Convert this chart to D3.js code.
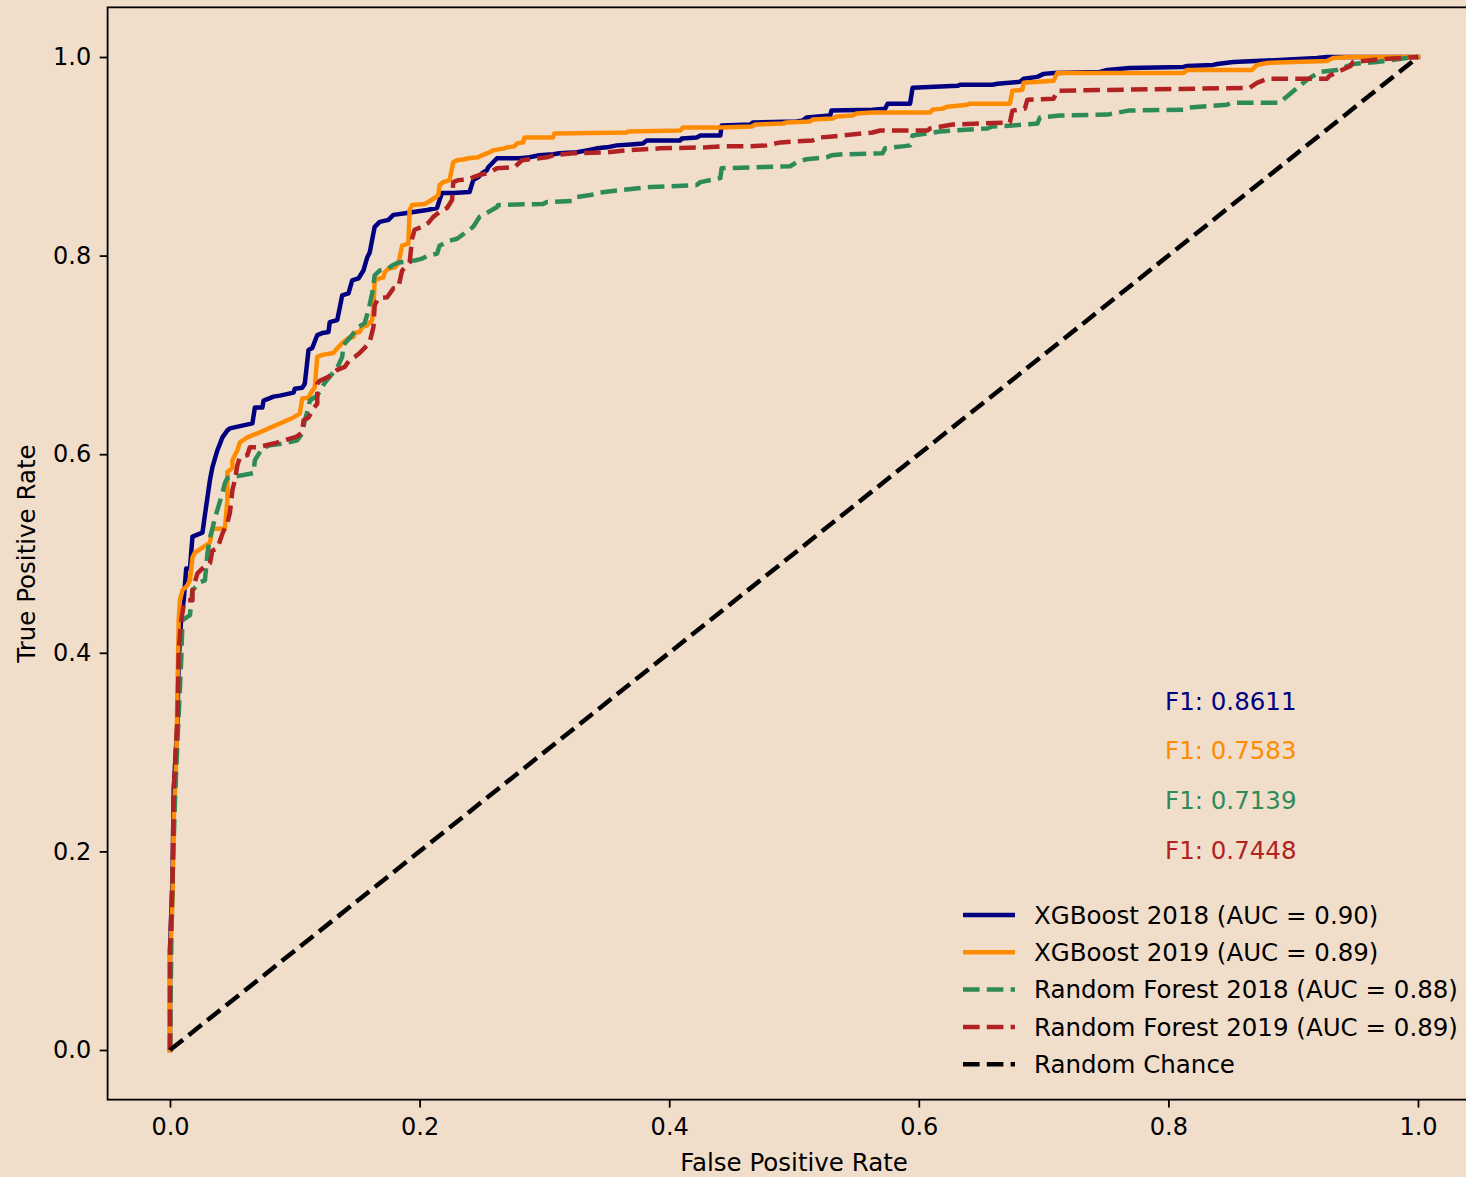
<!DOCTYPE html>
<html><head><meta charset="utf-8">
<script src="https://cdn.jsdelivr.net/npm/d3@7"></script>
<style>
html,body{margin:0;padding:0;background:#f0decb;}
svg{display:block;}
text{font-family:"DejaVu Sans",sans-serif;}
</style></head>
<body>
<svg id="chart" width="1466" height="1177"></svg>
<script>
// ---------- data ----------
const xgb2018_fpr = [0,0,0.002,0.003,0.006,0.007,0.009,0.011,0.013,0.016,0.018,0.026,0.028,0.032,0.034,0.038,0.042,0.046,0.048,0.066,0.068,0.074,0.075,0.083,0.088,0.099,0.100,0.106,0.108,0.111,0.114,0.118,0.122,0.127,0.128,0.134,0.138,0.143,0.146,0.151,0.155,0.158,0.160,0.164,0.168,0.175,0.179,0.190,0.195,0.206,0.214,0.216,0.218,0.227,0.240,0.243,0.247,0.250,0.254,0.255,0.262,0.280,0.288,0.296,0.307,0.312,0.326,0.334,0.342,0.350,0.358,0.369,0.379,0.382,0.409,0.410,0.422,0.425,0.441,0.442,0.465,0.467,0.502,0.507,0.510,0.529,0.530,0.563,0.573,0.575,0.593,0.595,0.631,0.633,0.659,0.663,0.681,0.684,0.695,0.700,0.708,0.745,0.751,0.769,0.812,0.815,0.836,0.839,0.852,0.889,0.919,0.927,1];
const xgb2018_tpr = [0,0.101,0.171,0.262,0.332,0.393,0.436,0.453,0.485,0.485,0.517,0.521,0.539,0.574,0.587,0.604,0.617,0.624,0.626,0.631,0.647,0.647,0.654,0.658,0.659,0.662,0.666,0.667,0.671,0.705,0.707,0.720,0.722,0.723,0.733,0.735,0.760,0.762,0.775,0.777,0.785,0.798,0.803,0.829,0.834,0.836,0.841,0.843,0.844,0.846,0.848,0.856,0.863,0.863,0.864,0.876,0.879,0.883,0.886,0.889,0.898,0.898,0.899,0.901,0.902,0.903,0.904,0.906,0.908,0.909,0.911,0.912,0.913,0.916,0.916,0.918,0.919,0.921,0.921,0.931,0.932,0.934,0.935,0.936,0.939,0.941,0.946,0.947,0.948,0.953,0.953,0.969,0.971,0.972,0.972,0.973,0.975,0.978,0.980,0.983,0.984,0.985,0.987,0.989,0.990,0.991,0.992,0.993,0.995,0.997,0.999,1,1];

const xgb2019_fpr = [0,0,0.002,0.003,0.005,0.006,0.007,0.008,0.010,0.014,0.016,0.018,0.020,0.032,0.034,0.044,0.046,0.046,0.050,0.050,0.054,0.056,0.062,0.070,0.099,0.104,0.106,0.111,0.114,0.116,0.118,0.122,0.131,0.135,0.138,0.143,0.147,0.148,0.152,0.154,0.158,0.162,0.163,0.164,0.168,0.171,0.172,0.175,0.180,0.183,0.186,0.191,0.192,0.194,0.204,0.207,0.212,0.215,0.216,0.219,0.224,0.227,0.230,0.236,0.239,0.247,0.250,0.256,0.259,0.268,0.270,0.276,0.278,0.283,0.284,0.307,0.308,0.366,0.367,0.409,0.411,0.441,0.466,0.469,0.491,0.494,0.513,0.515,0.531,0.534,0.547,0.550,0.563,0.609,0.611,0.619,0.623,0.639,0.641,0.673,0.675,0.683,0.684,0.708,0.711,0.812,0.815,0.867,0.871,0.879,0.927,0.932,0.946,1];
const xgb2019_tpr = [0,0.091,0.151,0.232,0.292,0.362,0.433,0.453,0.463,0.468,0.473,0.496,0.501,0.511,0.525,0.525,0.554,0.582,0.586,0.594,0.604,0.612,0.617,0.621,0.637,0.641,0.656,0.657,0.664,0.667,0.698,0.700,0.702,0.708,0.712,0.717,0.718,0.722,0.723,0.728,0.730,0.735,0.747,0.775,0.777,0.778,0.783,0.787,0.788,0.792,0.810,0.812,0.846,0.851,0.852,0.854,0.858,0.861,0.871,0.874,0.876,0.894,0.896,0.897,0.898,0.899,0.901,0.904,0.906,0.908,0.909,0.910,0.913,0.914,0.919,0.919,0.923,0.924,0.925,0.926,0.929,0.929,0.930,0.932,0.933,0.934,0.935,0.937,0.938,0.940,0.941,0.943,0.944,0.944,0.947,0.948,0.950,0.952,0.953,0.953,0.966,0.967,0.974,0.976,0.984,0.984,0.987,0.987,0.992,0.994,0.996,0.999,1,1];

const rf2018_fpr = [0,0.001,0.002,0.004,0.006,0.009,0.010,0.016,0.018,0.022,0.024,0.028,0.030,0.032,0.034,0.036,0.038,0.042,0.044,0.046,0.050,0.067,0.068,0.074,0.080,0.092,0.102,0.106,0.108,0.111,0.112,0.118,0.124,0.128,0.134,0.138,0.139,0.144,0.151,0.156,0.159,0.162,0.164,0.168,0.175,0.178,0.183,0.196,0.202,0.207,0.214,0.216,0.224,0.230,0.243,0.248,0.254,0.262,0.263,0.299,0.302,0.323,0.326,0.337,0.342,0.361,0.377,0.385,0.422,0.425,0.441,0.442,0.497,0.502,0.510,0.526,0.530,0.539,0.571,0.573,0.587,0.593,0.595,0.617,0.627,0.655,0.659,0.675,0.695,0.697,0.713,0.751,0.768,0.812,0.815,0.847,0.851,0.889,0.911,0.921,0.935,0.948,0.967,0.991,1];
const rf2018_tpr = [0,0.101,0.171,0.252,0.312,0.393,0.433,0.438,0.463,0.468,0.471,0.473,0.500,0.516,0.525,0.536,0.544,0.561,0.571,0.576,0.577,0.581,0.594,0.606,0.609,0.611,0.614,0.621,0.634,0.647,0.654,0.659,0.672,0.678,0.687,0.698,0.710,0.717,0.728,0.732,0.745,0.762,0.780,0.785,0.787,0.790,0.793,0.795,0.797,0.800,0.802,0.810,0.815,0.817,0.829,0.839,0.843,0.849,0.851,0.852,0.854,0.855,0.859,0.861,0.863,0.866,0.868,0.869,0.871,0.874,0.878,0.888,0.890,0.894,0.897,0.899,0.901,0.902,0.903,0.908,0.910,0.911,0.921,0.925,0.926,0.928,0.930,0.931,0.933,0.939,0.941,0.942,0.946,0.947,0.949,0.952,0.954,0.954,0.977,0.985,0.987,0.993,0.995,0.999,1];

const rf2019_fpr = [0,0,0.002,0.003,0.006,0.007,0.009,0.011,0.014,0.018,0.018,0.022,0.026,0.032,0.034,0.038,0.042,0.046,0.048,0.050,0.052,0.054,0.056,0.062,0.064,0.070,0.084,0.102,0.106,0.107,0.111,0.115,0.118,0.118,0.120,0.127,0.134,0.140,0.144,0.148,0.152,0.156,0.160,0.163,0.164,0.167,0.174,0.179,0.183,0.186,0.190,0.192,0.194,0.196,0.202,0.207,0.211,0.216,0.222,0.226,0.227,0.231,0.240,0.243,0.250,0.255,0.262,0.276,0.282,0.288,0.302,0.307,0.323,0.350,0.366,0.393,0.430,0.441,0.465,0.478,0.489,0.515,0.521,0.531,0.563,0.569,0.607,0.609,0.627,0.673,0.675,0.685,0.687,0.708,0.711,0.865,0.871,0.879,0.927,0.929,0.946,0.948,0.972,1];
const rf2019_tpr = [0,0.101,0.171,0.262,0.332,0.403,0.433,0.448,0.453,0.453,0.463,0.480,0.485,0.490,0.503,0.505,0.520,0.531,0.541,0.564,0.574,0.589,0.597,0.599,0.607,0.607,0.611,0.618,0.622,0.634,0.637,0.646,0.651,0.671,0.674,0.678,0.685,0.688,0.695,0.698,0.702,0.707,0.713,0.728,0.750,0.757,0.758,0.767,0.768,0.785,0.790,0.793,0.817,0.826,0.829,0.833,0.839,0.844,0.848,0.856,0.874,0.876,0.877,0.879,0.882,0.883,0.888,0.889,0.896,0.897,0.899,0.901,0.903,0.904,0.906,0.908,0.909,0.910,0.910,0.911,0.914,0.916,0.919,0.920,0.924,0.926,0.926,0.928,0.932,0.934,0.946,0.948,0.957,0.958,0.966,0.969,0.974,0.978,0.978,0.981,0.991,0.995,0.998,1];

const chance_fpr = [0,1];
const chance_tpr = [0,1];

const seriesNames = ["XGBoost 2018 (AUC = 0.90)","XGBoost 2019 (AUC = 0.89)","Random Forest 2018 (AUC = 0.88)","Random Forest 2019 (AUC = 0.89)","Random Chance"];
const f1Labels = ["F1: 0.8611","F1: 0.7583","F1: 0.7139","F1: 0.7448"];
const f1Pos = [0.35,0.30,0.25,0.20];
const xTicks = [0,0.2,0.4,0.6,0.8,1.0];
const yTicks = [0,0.2,0.4,0.6,0.8,1.0];

// ---------- layout ----------
(function(){
const colors = ["#000080","#ff8c00","#2e8b57","#b22222","#000000"];
const dashes = [null,null,"16.6,7.2","16.6,7.2","16.6,7.2"];
const svg = d3.select("#chart");
const pL = 107.6, pR = 1480.4, pT = 7.35, pB = 1099.65;
const x = d3.scaleLinear().domain([-0.05,1.05]).range([pL,pR]);
const y = d3.scaleLinear().domain([-0.05,1.05]).range([pB,pT]);
const FS = 24.5, TFS = 24;

svg.append("rect").attr("width",1466).attr("height",1177).attr("fill","#f0decb");

const series = [
  [xgb2018_fpr,xgb2018_tpr],[xgb2019_fpr,xgb2019_tpr],
  [rf2018_fpr,rf2018_tpr],[rf2019_fpr,rf2019_tpr],[chance_fpr,chance_tpr]
];
const line = d3.line().x(d=>x(d[0])).y(d=>y(d[1]));
const plot = svg.append("g");
series.forEach((s,i)=>{
  const pts = d3.zip(s[0], s[1]);
  plot.append("path").attr("d",line(pts)).attr("fill","none")
    .attr("stroke",colors[i]).attr("stroke-width",4.5)
    .attr("stroke-dasharray",dashes[i]).attr("stroke-linejoin","round")
    .attr("stroke-linecap", dashes[i] ? "butt" : "square");
});

// F1 texts
f1Labels.forEach((t,i)=>{
  svg.append("text").attr("x",x(0.85)).attr("y",y(f1Pos[i])).attr("dy","0.3em")
    .attr("text-anchor","middle").attr("font-size",FS).attr("fill",colors[i]).text(t);
});

// frame
svg.append("rect").attr("x",pL).attr("y",pT).attr("width",pR-pL).attr("height",pB-pT)
  .attr("fill","none").attr("stroke","#000").attr("stroke-width",1.8);

// axes
const xAxis = svg.append("g").attr("transform",`translate(0,${pB})`)
  .call(d3.axisBottom(x).tickValues(xTicks).tickFormat(d3.format(".1f")).tickSize(7.9).tickPadding(10.5));
const yAxis = svg.append("g").attr("transform",`translate(${pL},0)`)
  .call(d3.axisLeft(y).tickValues(yTicks).tickFormat(d3.format(".1f")).tickSize(7.9).tickPadding(8.5));
[xAxis,yAxis].forEach(a=>{
  a.select(".domain").remove();
  a.selectAll("line").attr("stroke","#000").attr("stroke-width",1.8);
  a.selectAll("text").attr("font-size",TFS).attr("fill","#000").attr("font-family","DejaVu Sans");
});

svg.append("text").attr("x",(pL+pR)/2).attr("y",1171).attr("text-anchor","middle")
  .attr("font-size",FS).text("False Positive Rate");
svg.append("text").attr("transform",`translate(35,${(pT+pB)/2}) rotate(-90)`)
  .attr("text-anchor","middle").attr("font-size",FS).text("True Positive Rate");

// legend
const lg = svg.append("g");
const rowY = [915,952.3,989.6,1026.9,1064.2];
seriesNames.forEach((n,i)=>{
  lg.append("line").attr("x1",963).attr("x2",1015).attr("y1",rowY[i]).attr("y2",rowY[i])
    .attr("stroke",colors[i]).attr("stroke-width",4.5).attr("stroke-dasharray",dashes[i]);
  lg.append("text").attr("x",1034).attr("y",rowY[i]).attr("dy","0.36em")
    .attr("font-size",FS).attr("fill","#000").text(n);
});
})();
</script>
</body></html>
